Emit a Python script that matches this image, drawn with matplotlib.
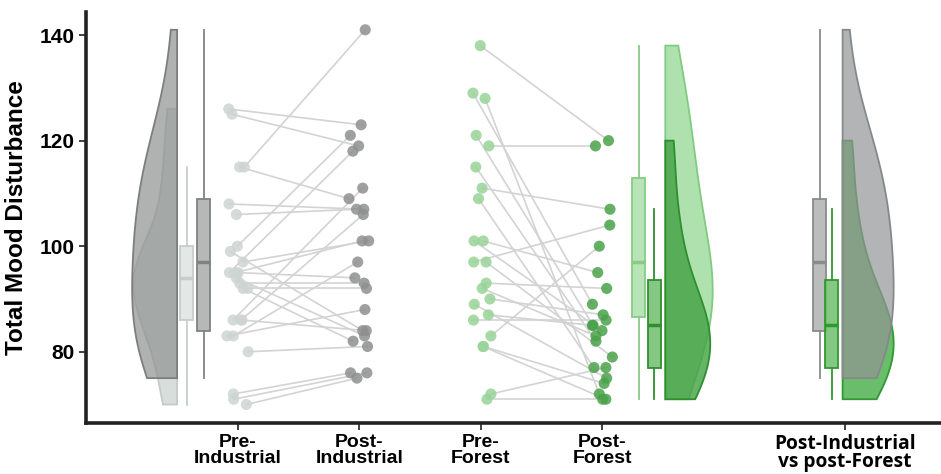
import numpy as np
import matplotlib.pyplot as plt
from matplotlib.colors import to_rgba
from matplotlib.patches import Polygon

# values (pairs are in matching order)
pre_industrial = [126, 125, 115, 115, 108, 106, 100, 99, 97, 95, 95, 95, 94, 93, 92, 92, 86, 86, 86, 83, 83, 80, 72, 71, 70]
post_industrial = [123, 119, 141, 109, 107, 107, 121, 84, 101, 118, 101, 94, 83, 93, 82, 92, 111, 106, 84, 97, 88, 81, 76, 76, 75]
pre_forest = [138, 129, 128, 121, 119, 115, 111, 109, 101, 101, 97, 97, 93, 92, 90, 89, 87, 86, 83, 81, 81, 72, 71]
post_forest = [120, 89, 72, 85, 119, 82, 107, 77, 95, 84, 104, 79, 92, 83, 87, 75, 85, 86, 100, 74, 71, 77, 71]

tick_pos = [1, 2, 3, 4, 6]
tick_labels = ["Pre-\nIndustrial", "Post-\nIndustrial", "Pre-\nForest", "Post-\nForest",
               "Post-Industrial\nvs post-Forest"]
y_ticks = [80, 100, 120, 140]

# point colours
c_preI = "#cdd5d2"
c_postI = "#8e9090"
c_preF = "#98d498"
c_postF = "#4aa24a"

plt.rcParams['font.family'] = ['Liberation Sans', 'DejaVu Sans']


def kde(vals, adjust=1.35):
    v = np.asarray(vals, float)
    n = len(v)
    q75, q25 = np.percentile(v, [75, 25])
    bw = adjust * 0.9 * min(v.std(ddof=1), (q75 - q25) / 1.34) * n ** -0.2
    grid = np.linspace(v.min(), v.max(), 300)
    d = np.exp(-0.5 * ((grid[:, None] - v[None, :]) / bw) ** 2).sum(1)
    return grid, d / d.max()


def half_violin(ax, vals, base, side, width, fc, ec, alpha, z):
    y, d = kde(vals)
    x = base + side * width * d
    xs = np.r_[base, x, base]
    ys = np.r_[y[0], y, y[-1]]
    ax.add_patch(Polygon(np.c_[xs, ys], closed=True, facecolor=to_rgba(fc, alpha),
                         edgecolor=ec, lw=1.3, zorder=z))


def box(ax, vals, pos, fc, ec, alpha=0.85):
    ax.boxplot(vals, positions=[pos], widths=0.11, patch_artist=True,
               showfliers=False, showcaps=False,
               boxprops=dict(facecolor=to_rgba(fc, alpha), edgecolor=ec, lw=1.3),
               whiskerprops=dict(color=ec, lw=1.3),
               medianprops=dict(color=ec, lw=2.5),
               zorder=3)


fig = plt.figure(figsize=(9.41, 4.74), dpi=100)
ax = fig.add_axes([0.0914, 0.1076, 0.9086, 0.8674])

# rain clouds
half_violin(ax, pre_industrial, 0.5, -1, 0.36, "#d3dbd8", "#c3cbc8", 0.9, 1)
half_violin(ax, post_industrial, 0.5, -1, 0.37, "#8f9191", "#7d7f7f", 0.7, 2)
half_violin(ax, pre_forest, 4.52, 1, 0.39, "#a6dea6", "#7fcb7f", 0.9, 1)
half_violin(ax, post_forest, 4.52, 1, 0.37, "#45a345", "#2f8f2f", 0.82, 2)
half_violin(ax, post_forest, 5.98, 1, 0.42, "#62ba62", "#2f9a2f", 0.95, 1)
half_violin(ax, post_industrial, 5.98, 1, 0.42, "#929496", "#868889", 0.7, 2)

# boxes
box(ax, pre_industrial, 0.58, "#dfe5e3", "#c6cecb")
box(ax, post_industrial, 0.72, "#a9abab", "#808282")
box(ax, pre_forest, 4.30, "#ace0ac", "#86cc86")
box(ax, post_forest, 4.43, "#6fbf6f", "#2f8f2f")
box(ax, post_industrial, 5.79, "#b0b2b2", "#8a8c8c")
box(ax, post_forest, 5.89, "#6fbf6f", "#2f9a2f")

# paired points
rng = np.random.default_rng(3)
for a, b, xa, xb, ca, cb in [(pre_industrial, post_industrial, 1, 2, c_preI, c_postI),
                              (pre_forest, post_forest, 3, 4, c_preF, c_postF)]:
    ja = xa + rng.uniform(-0.09, 0.09, len(a))
    jb = xb + rng.uniform(-0.09, 0.09, len(b))
    for i in range(len(a)):
        ax.plot([ja[i], jb[i]], [a[i], b[i]], color="#d3d3d3", lw=1.2, zorder=2)
    ax.scatter(ja, a, s=64, color=ca, alpha=0.85, edgecolor='none', zorder=4)
    ax.scatter(jb, b, s=64, color=cb, alpha=0.85, edgecolor='none', zorder=4)

ax.set_xlim(-0.25, 6.79)
ax.set_ylim(66.5, 144.4)
ax.set_xticks(tick_pos)
ax.set_xticklabels(tick_labels, fontsize=14, fontweight='bold', linespacing=0.88)
ax.get_xticklabels()[4].set_family(['Open Sans', 'DejaVu Sans'])
ax.get_xticklabels()[4].set_fontsize(13.8)
ax.set_yticks(y_ticks)
ax.set_yticklabels([str(t) for t in y_ticks], fontsize=15, fontweight='bold')
ax.set_ylabel("Total Mood Disturbance", fontsize=17.5, fontweight='bold', labelpad=8)
for s in ['top', 'right']:
    ax.spines[s].set_visible(False)
for s in ['left', 'bottom']:
    ax.spines[s].set_linewidth(2.6)
    ax.spines[s].set_color("#222222")
ax.tick_params(axis='both', length=5, width=1.3, color="#333333")
ax.tick_params(axis='x', pad=3)

fig.savefig("out.png", dpi=100)
